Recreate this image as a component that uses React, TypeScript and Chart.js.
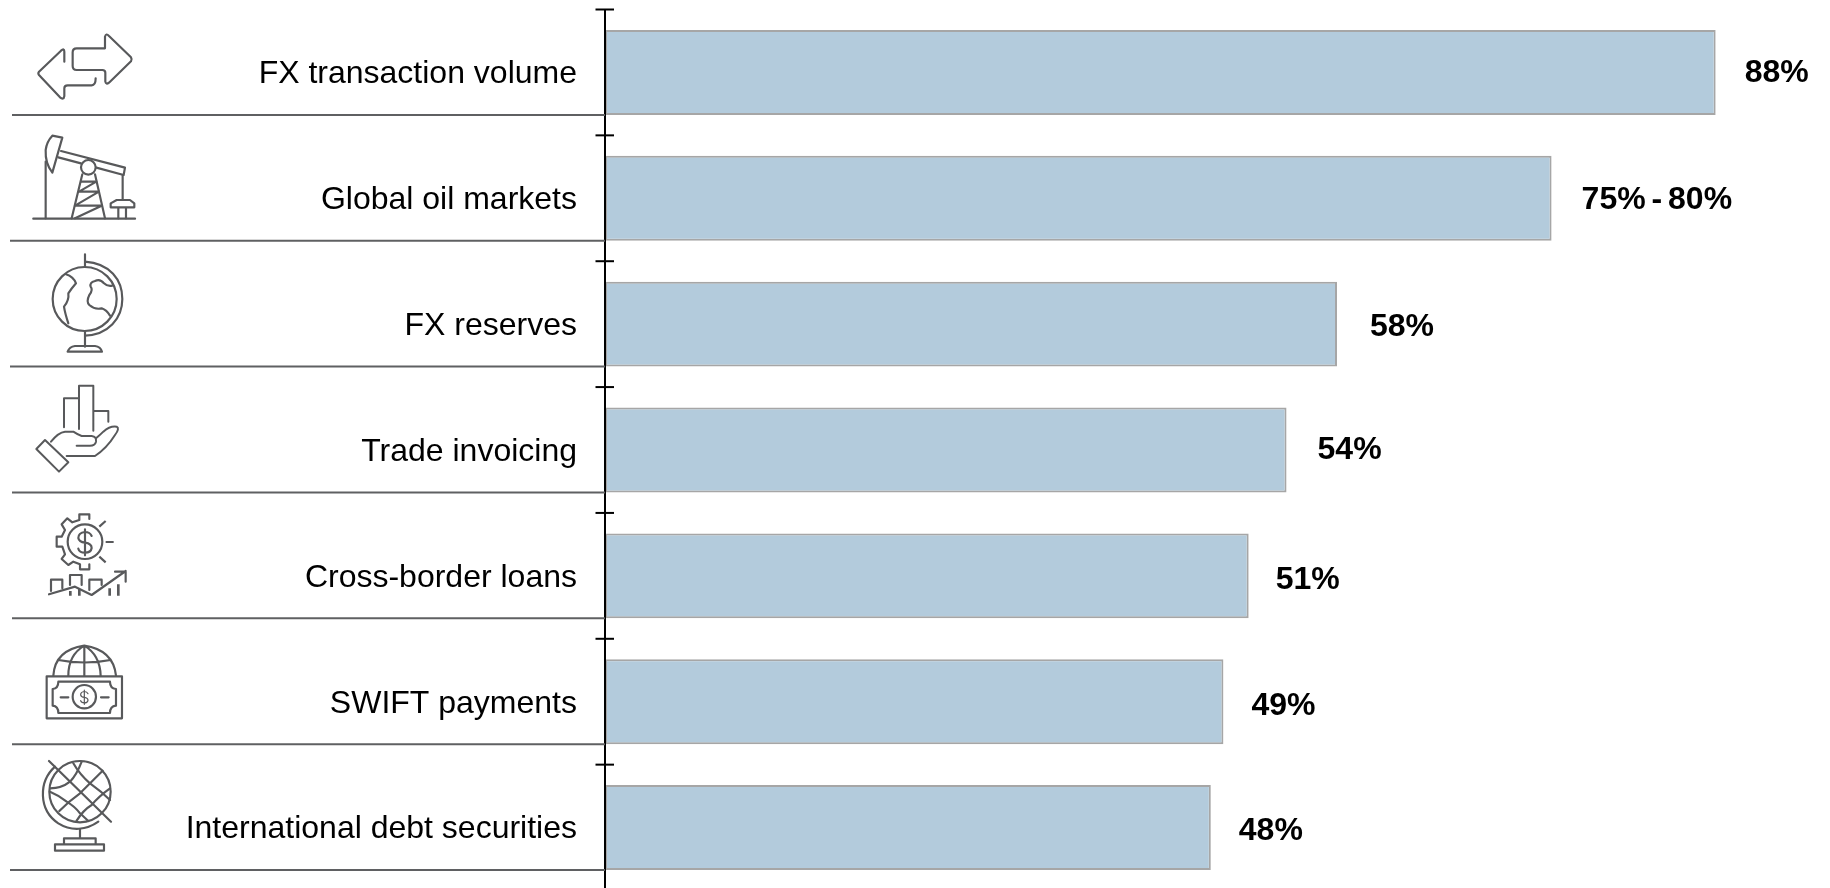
import React, { useEffect, useRef } from "react";
import { Chart, registerables } from "chart.js";

Chart.register(...registerables);

const categories = [
  "FX transaction volume",
  "Global oil markets",
  "FX reserves",
  "Trade invoicing",
  "Cross-border loans",
  "SWIFT payments",
  "International debt securities",
];
const values = [88, 75, 58, 54, 51, 49, 48];
const valueLabels = ["88%", "75% - 80%", "58%", "54%", "51%", "49%", "48%"];

const labelGap = [29, 30, 33, 31, 27, 28, 28];
const labelShift = [1, 2, 3, 0, 4, 4, 4];
const separatorStart = [12, 10, 10, 12, 12, 12, 10];

const FONT = "'Liberation Sans', Arial, sans-serif";
const INK = "#58595B";

const decorations = {
  id: "decorations",
  afterDraw(chart: any) {
    const { ctx } = chart;
    const y = chart.scales.y;
    const x = chart.scales.x;
    const bars = chart.getDatasetMeta(0).data;
    const axisX = x.left;
    const band = y.height / categories.length;
    ctx.save();
    bars.forEach((bar: any, i: number) => {
      const bottom = bar.y + bar.height / 2;
      ctx.strokeStyle = "#5F6062";
      ctx.lineWidth = 2;
      ctx.beginPath();
      ctx.moveTo(separatorStart[i], bottom);
      ctx.lineTo(axisX, bottom);
      ctx.stroke();

      const tickY = y.getPixelForValue(i) - band / 2;
      ctx.strokeStyle = "#000000";
      ctx.lineWidth = 2;
      ctx.beginPath();
      ctx.moveTo(axisX - 9.5, tickY);
      ctx.lineTo(axisX + 9, tickY);
      ctx.stroke();

      ctx.fillStyle = "#000000";
      ctx.font = `bold 32px ${FONT}`;
      ctx.textAlign = "left";
      ctx.textBaseline = "middle";
      ctx.wordSpacing = "-3px";
      ctx.fillText(valueLabels[i], bar.x + labelGap[i], bar.y + labelShift[i]);
    });
    ctx.restore();
  },
};

const Dollar = ({ cx, cy, s }: { cx: number; cy: number; s: number }) => (
  <g transform={`translate(${cx} ${cy}) scale(${s})`}>
    <path d="M20 -18 Q15 -30 0 -30 Q-20 -28 -20 -12 Q-18 0 0 2 Q20 5 20 18 Q18 32 0 32 Q-17 32 -20 20 M0 -38 V40" />
  </g>
);

function Icons() {
  return (
    <svg
      width={1830}
      height={888}
      style={{ position: "absolute", left: 0, top: 0, pointerEvents: "none" }}
      fill="none"
      stroke={INK}
      strokeLinecap="round"
      strokeLinejoin="round"
    >
      <g transform="translate(25 20) scale(0.3333)" strokeWidth={6.5}>
        <path d="M118 125 L118 95 Q118 83 108 92 L42 155 Q38 160 42 165 L105 232 Q116 241 118 228 L118 205 Q118 196 128 196 L200 196 Q212 196 212 175" />
        <path d="M240 85 L240 50 Q243 38 252 48 L318 112 Q322 118 318 124 L252 188 Q243 195 241 185 L241 158 Q241 150 232 150 L155 150 Q143 150 143 138 L143 97 Q143 85 155 85 Z" />
      </g>
      <g transform="translate(25 125) scale(0.3333)" strokeWidth={6.5}>
        <path d="M25 281 H330" strokeWidth={7} />
        <path d="M82 32 L112 38 L82 143 Q60 115 62 75 Q65 50 82 32 Z" />
        <path d="M62 110 V280" />
        <path d="M108 78 L300 128 L296 150 L214 128 M168 115 L100 97" />
        <circle cx={190} cy={127} r={22} />
        <path d="M172 148 L140 280 M210 148 L240 280" />
        <path d="M168 170 H214 L162 200 H222 L150 242 H230 L150 280" />
        <path d="M293 150 V225 M257 235 L275 225 H315 L328 235 V247 H257 Z M280 247 V280 M303 247 V280" />
      </g>
      <g transform="translate(30 245) scale(0.3333)" strokeWidth={6.5}>
        <circle cx={164} cy={162} r={96} />
        <path d="M165 28 V65 M165 258 V305" />
        <path d="M165 50 C240 55 277 105 277 162 C277 220 235 270 165 272" />
        <path d="M113 320 Q118 305 135 303 H195 Q212 305 216 320 Z" />
        <path d="M108 88 Q130 95 138 115 Q125 130 115 145 Q118 165 102 185 Q105 205 115 235" />
        <path d="M247 122 Q232 125 222 115 Q210 100 195 108 Q178 112 182 125 Q190 135 178 150 Q168 170 178 180 Q195 195 215 190 Q230 195 240 212" />
      </g>
      <g transform="translate(25 375) scale(0.3333)" strokeWidth={6}>
        <path d="M117 157 V70 H160 M162 162 V32 H205 V167 M207 108 H250 V140" />
        <path d="M34 222 L60 195 L130 262 L102 290 Z" />
        <path d="M78 200 Q100 172 120 170 H145 Q160 180 170 183 H200 Q215 185 213 200 Q210 212 195 212 H155" />
        <path d="M213 190 Q225 180 235 170 Q255 152 275 155 Q285 160 270 180 Q245 220 210 243 H125" />
      </g>
      <g transform="translate(35 505) scale(0.3333)" strokeWidth={6.5}>
        <circle cx={150} cy={110} r={52} />
        <Dollar cx={150} cy={111} s={1} />
        <path d="M163 42 V28 H133 V45 L112 52 L97 40 L80 58 L90 75 L80 95 H65 V125 H82 L90 148 L80 162 L100 180 L115 170 L135 178 V193 H163 V178" />
        <path d="M193 65 L212 48 M212 111 H236 M193 155 L212 172" strokeLinecap="butt" />
        <path d="M42 268 L120 245 L170 270 L272 198 M240 200 H272 V230" />
        <path d="M48 258 V224 H82 V250 M105 240 V210 H140 V240 M163 255 V224 H200 V240" />
        <path d="M106 258 V272 M133 252 V272 M224 250 V272 M250 238 V272" strokeWidth={8} strokeLinecap="butt" />
      </g>
      <g transform="translate(30 635) scale(0.3333)" strokeWidth={6.5}>
        <path d="M70 122 Q75 45 163 32 Q250 45 258 122 M115 122 Q115 60 163 32 Q210 60 212 122 M163 32 V122 M85 75 Q163 90 242 75" />
        <path d="M50 124 H276 V250 H50 Z" />
        <path d="M85 140 H240 Q240 160 258 162 V212 Q240 214 240 234 H85 Q85 214 68 212 V162 Q85 160 85 140 Z" />
        <circle cx={163} cy={185} r={35} />
        <Dollar cx={163} cy={186} s={0.55} />
        <path d="M92 187 H115 M213 187 H236" />
      </g>
      <g transform="translate(30 750) scale(0.3333)" strokeWidth={6.5}>
        <circle cx={150} cy={125} r={92} />
        <path d="M75 50 C25 95 25 180 85 220 C125 245 170 240 205 215" />
        <path d="M57 33 L243 215" />
        <path d="M155 35 Q140 75 120 95 Q95 115 60 115 M218 62 Q190 90 150 130 Q115 155 88 183 M240 115 Q205 140 185 165 Q160 180 140 212" />
        <path d="M130 40 Q150 75 180 100 Q215 125 240 150 M60 125 Q85 135 110 155 Q135 170 150 190 L175 213" />
        <path d="M150 237 V265 M102 283 V265 H197 V283 M75 283 H222 V302 H75 Z" />
      </g>
    </svg>
  );
}

export default function App() {
  const ref = useRef<HTMLCanvasElement>(null);
  useEffect(() => {
    const chart = new Chart(ref.current as HTMLCanvasElement, {
      type: "bar",
      data: {
        labels: categories,
        datasets: [
          {
            data: values,
            backgroundColor: "#B3CBDC",
            borderColor: "#A6A6A6",
            borderWidth: 2,
            borderSkipped: false,
            barPercentage: 0.675,
            categoryPercentage: 1,
          },
        ],
      },
      plugins: [decorations],
      options: {
        indexAxis: "y",
        animation: false,
        responsive: false,
        devicePixelRatio: 1,
        layout: { padding: { top: 9.5, right: 26, bottom: 1.5, left: 0 } },
        plugins: { legend: { display: false }, tooltip: { enabled: false } },
        scales: {
          x: { display: false, min: 0, max: 95 },
          y: {
            afterFit: (s: any) => {
              s.width = 605;
              s.paddingTop = 0;
              s.paddingBottom = 0;
            },
            grid: { display: false, drawTicks: false },
            border: { display: true, color: "#000000", width: 2, z: 1 },
            ticks: {
              color: "#000000",
              padding: 28,
              labelOffset: 2,
              font: { family: FONT, size: 32 },
            },
          },
        },
      },
    } as any);
    return () => chart.destroy();
  }, []);
  return (
    <div
      style={{
        position: "absolute",
        left: 0,
        top: 0,
        width: 1830,
        height: 888,
        overflow: "hidden",
        background: "#ffffff",
      }}
    >
      <canvas ref={ref} width={1830} height={892} style={{ display: "block" }} />
      <Icons />
    </div>
  );
}
